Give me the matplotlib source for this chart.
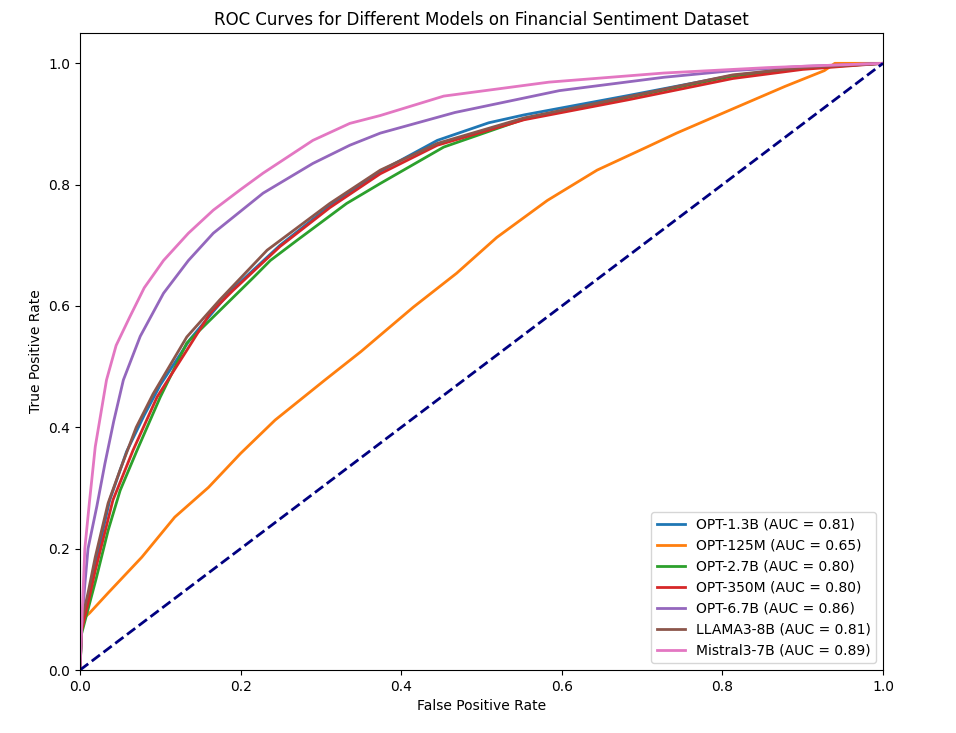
import matplotlib
matplotlib.use("Agg")
import matplotlib.pyplot as plt

labels = ["OPT-1.3B (AUC = 0.81)", "OPT-125M (AUC = 0.65)", "OPT-2.7B (AUC = 0.80)",
          "OPT-350M (AUC = 0.80)", "OPT-6.7B (AUC = 0.86)", "LLAMA3-8B (AUC = 0.81)",
          "Mistral3-7B (AUC = 0.89)"]
colors = ["#1f77b4", "#ff7f0e", "#2ca02c", "#d62728", "#9467bd", "#8c564b", "#e377c2"]

fpr_opt13 = [0, 0.002, 0.01, 0.02, 0.037, 0.058, 0.08, 0.1, 0.137, 0.187, 0.249, 0.311, 0.374, 0.445, 0.509, 0.553, 0.683, 0.813, 0.9, 1.0]
tpr_opt13 = [0, 0.07, 0.12, 0.18, 0.28, 0.36, 0.42, 0.47, 0.545, 0.624, 0.70, 0.765, 0.822, 0.873, 0.902, 0.915, 0.947, 0.98, 0.993, 1.0]

fpr_opt125 = [0, 0.0, 0.012, 0.035, 0.077, 0.118, 0.16, 0.2, 0.243, 0.305, 0.35, 0.374, 0.415, 0.469, 0.519, 0.582, 0.644, 0.706, 0.743, 0.813, 0.878, 0.927, 0.94, 1.0]
tpr_opt125 = [0, 0.08, 0.094, 0.127, 0.186, 0.252, 0.301, 0.357, 0.412, 0.478, 0.525, 0.552, 0.598, 0.654, 0.713, 0.774, 0.824, 0.862, 0.885, 0.925, 0.962, 0.988, 1.0, 1.0]

fpr_opt27 = [0, 0.002, 0.01, 0.02, 0.035, 0.05, 0.071, 0.1, 0.133, 0.166, 0.216, 0.237, 0.27, 0.332, 0.374, 0.453, 0.553, 0.683, 0.813, 0.9, 1.0]
tpr_opt27 = [0, 0.06, 0.1, 0.15, 0.23, 0.296, 0.362, 0.45, 0.539, 0.582, 0.647, 0.675, 0.708, 0.769, 0.802, 0.862, 0.908, 0.944, 0.979, 0.992, 1.0]

fpr_opt350 = [0, 0.002, 0.01, 0.019, 0.041, 0.066, 0.096, 0.133, 0.162, 0.19, 0.249, 0.311, 0.374, 0.445, 0.553, 0.683, 0.813, 0.9, 1.0]
tpr_opt350 = [0, 0.065, 0.11, 0.164, 0.28, 0.362, 0.45, 0.527, 0.588, 0.625, 0.698, 0.762, 0.818, 0.865, 0.907, 0.94, 0.975, 0.99, 1.0]

fpr_opt67 = [0, 0.002, 0.006, 0.01, 0.021, 0.031, 0.042, 0.054, 0.075, 0.104, 0.135, 0.166, 0.228, 0.29, 0.336, 0.374, 0.467, 0.597, 0.727, 0.813, 0.9, 1.0]
tpr_opt67 = [0, 0.07, 0.14, 0.2, 0.27, 0.34, 0.41, 0.478, 0.55, 0.621, 0.675, 0.72, 0.786, 0.835, 0.865, 0.885, 0.919, 0.955, 0.977, 0.988, 0.995, 1.0]

fpr_llama = [0, 0.002, 0.01, 0.019, 0.035, 0.05, 0.07, 0.091, 0.133, 0.174, 0.233, 0.311, 0.374, 0.445, 0.553, 0.683, 0.813, 0.9, 1.0]
tpr_llama = [0, 0.08, 0.127, 0.186, 0.275, 0.33, 0.40, 0.455, 0.549, 0.61, 0.692, 0.769, 0.824, 0.868, 0.91, 0.945, 0.981, 0.993, 1.0]

fpr_mistral = [0, 0.002, 0.006, 0.012, 0.019, 0.033, 0.045, 0.062, 0.08, 0.104, 0.135, 0.166, 0.2, 0.228, 0.29, 0.336, 0.374, 0.453, 0.584, 0.727, 0.857, 1.0]
tpr_mistral = [0, 0.07, 0.2, 0.28, 0.368, 0.478, 0.535, 0.582, 0.63, 0.675, 0.72, 0.758, 0.792, 0.819, 0.873, 0.901, 0.914, 0.946, 0.969, 0.984, 0.993, 1.0]

fprs = [fpr_opt13, fpr_opt125, fpr_opt27, fpr_opt350, fpr_opt67, fpr_llama, fpr_mistral]
tprs = [tpr_opt13, tpr_opt125, tpr_opt27, tpr_opt350, tpr_opt67, tpr_llama, tpr_mistral]

fig = plt.figure(figsize=(9.56, 7.33), dpi=100)
ax = fig.add_axes([80/956, 63/733, 803/956, 637/733])
for f, t, lab, c in zip(fprs, tprs, labels, colors):
    ax.plot(f, t, color=c, lw=2, label=lab)
ax.plot([0, 1], [0, 1], color="navy", lw=2, linestyle="--")
ax.set_xlim(0.0, 1.0)
ax.set_ylim(0.0, 1.05)
ax.tick_params(labelsize=10)
ax.set_xlabel("False Positive Rate", fontsize=10)
ax.set_ylabel("True Positive Rate", fontsize=10)
ax.set_title("ROC Curves for Different Models on Financial Sentiment Dataset", fontsize=12)
ax.legend(loc="lower right", fontsize=10)
fig.savefig("out.png", dpi=100)
